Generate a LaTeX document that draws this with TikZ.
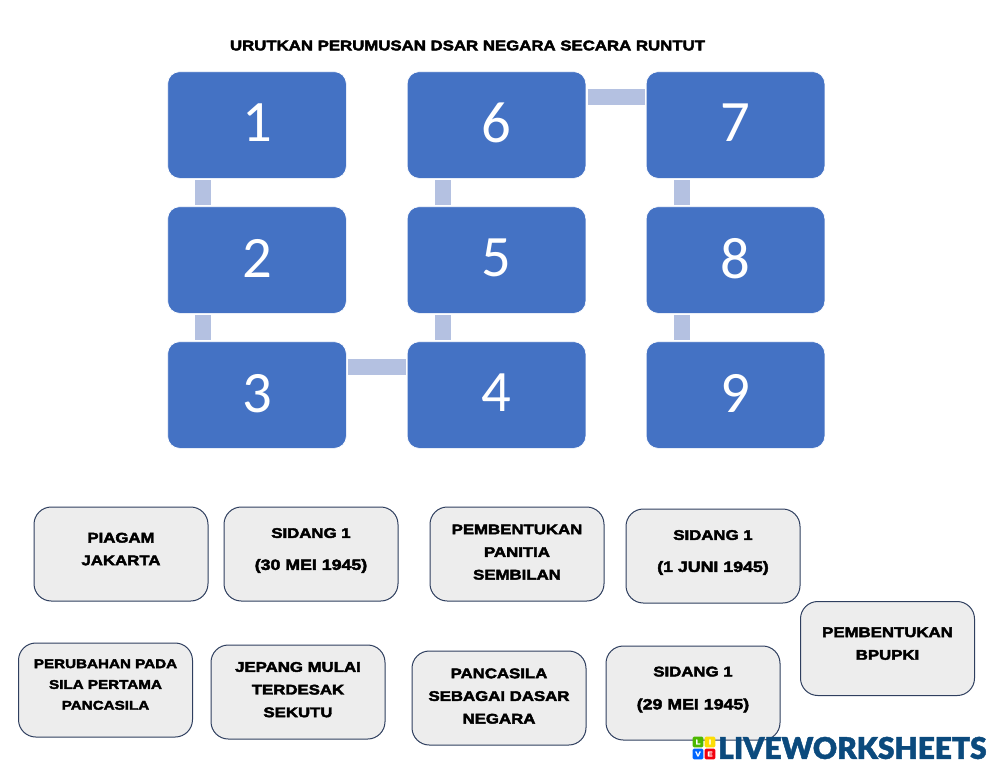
\documentclass[tikz,border=0pt]{standalone}
\usepackage{fontspec}
\setmainfont{Liberation Sans}
\newfontfamily\numfont{Carlito}
\newfontfamily\cardfont[FakeBold=3,FakeStretch=1.2]{Liberation Sans Bold}
\newfontfamily\logofont[FakeBold=1.5]{Lato Black}
\definecolor{stepblue}{HTML}{4472C4}
\definecolor{linkblue}{HTML}{B4C1E1}
\definecolor{cardgray}{HTML}{EDEDED}
\definecolor{cardline}{HTML}{2F3F5F}
\definecolor{logoblue}{HTML}{0B4A7D}
\newcommand{\cardtext}[2]{\raisebox{#1}[0pt][0pt]{\begin{tabular}{@{}c@{}}#2\end{tabular}}}
\newcommand{\datesize}{\fontsize{11.1}{12}\selectfont}
\newcommand{\smallsize}{\fontsize{9.5}{11}\selectfont}
\tikzset{
  stepbox/.style={fill=stepblue,draw=white,line width=0.5pt,rounded corners=9pt,minimum width=134pt,minimum height=80pt,text=white,text depth=3pt,font=\numfont\fontsize{44}{44}\selectfont},
  steplink/.style={draw=linkblue,line width=12pt,shorten >=1pt,shorten <=1pt},
  card/.style={fill=cardgray,draw=cardline,line width=0.75pt,rounded corners=13pt,minimum width=130.5pt,minimum height=70.5pt,inner sep=0pt,font=\cardfont\fontsize{10.5}{12}\selectfont},
  logobox/.style={minimum size=8pt,inner sep=0pt,rounded corners=1pt,text=white,font=\cardfont\fontsize{5}{6}\selectfont},
}
\begin{document}
\begin{tikzpicture}[x=0.75pt,y=-0.75pt]
\useasboundingbox (0,0) rectangle (999,772);
\node[font=\cardfont\fontsize{10.5}{12}\selectfont] (title) at (467.5,45.5) {URUTKAN PERUMUSAN DSAR NEGARA SECARA RUNTUT};
% number grid
\node[stepbox] (n1) at (257,125) {1};
\node[stepbox] (n2) at (257,260) {2};
\node[stepbox] (n3) at (257,395) {3};
\node[stepbox] (n6) at (496.5,125) {6};
\node[stepbox] (n5) at (496.5,260) {5};
\node[stepbox] (n4) at (496.5,395) {4};
\node[stepbox] (n7) at (735.5,125) {7};
\node[stepbox] (n8) at (735.5,260) {8};
\node[stepbox] (n9) at (735.5,395) {9};
% links
\draw[steplink] ([xshift=-40.5pt]n1.south) -- ([xshift=-40.5pt]n2.north);
\draw[steplink] ([xshift=-40.5pt]n2.south) -- ([xshift=-40.5pt]n3.north);
\draw[steplink] ([yshift=21pt]n3.east) -- ([yshift=21pt]n4.west);
\draw[steplink] ([xshift=-40.5pt]n4.north) -- ([xshift=-40.5pt]n5.south);
\draw[steplink] ([xshift=-40.5pt]n5.north) -- ([xshift=-40.5pt]n6.south);
\draw[steplink] ([yshift=21pt]n6.east) -- ([yshift=21pt]n7.west);
\draw[steplink] ([xshift=-40.5pt]n7.south) -- ([xshift=-40.5pt]n8.north);
\draw[steplink] ([xshift=-40.5pt]n8.south) -- ([xshift=-40.5pt]n9.north);
% answer cards
\node[card] (piagam) at (121,554) {\cardtext{-0.25pt}{PIAGAM\\[5pt] JAKARTA}};
\node[card] (sidangA) at (311,554) {\cardtext{-0.25pt}{SIDANG 1\\[12pt] \datesize (30 MEI 1945)}};
\node[card] (panitia) at (517,554) {\cardtext{-2.5pt}{PEMBENTUKAN\\[5pt] PANITIA\\[5pt] SEMBILAN}};
\node[card] (sidangB) at (713,556) {\cardtext{-0.25pt}{SIDANG 1\\[12pt] \datesize (1 JUNI 1945)}};
\node[card] (bpupki) at (887.5,648.5) {\cardtext{-0.25pt}{PEMBENTUKAN\\[5pt] BPUPKI}};
\node[card] (perubahan) at (105.5,690) {\cardtext{0.5pt}{\smallsize PERUBAHAN PADA\\[3.6pt] \smallsize SILA PERTAMA\\[3.6pt] \smallsize PANCASILA}};
\node[card] (jepang) at (298,692) {\cardtext{-2.2pt}{JEPANG MULAI\\[5pt] TERDESAK\\[5pt] SEKUTU}};
\node[card] (pancasila) at (499,698) {\cardtext{-2.5pt}{PANCASILA\\[5pt] SEBAGAI DASAR\\[5pt] NEGARA}};
\node[card] (sidangC) at (693,693) {\cardtext{-0.25pt}{SIDANG 1\\[12.7pt] \datesize (29 MEI 1945)}};
% logo
\node[logobox,fill=green!60!black!70!yellow] (logoL) at (698,742) {L};
\node[logobox,fill=yellow!80!orange] (logoI) at (710,742) {I};
\node[logobox,fill=blue!60!cyan] (logoV) at (698,754) {V};
\node[logobox,fill=red!80!purple] (logoE) at (710,754) {E};
\node[anchor=west,inner sep=0pt,text=logoblue,font=\logofont\fontsize{22.4}{23}\selectfont] (logo) at (718,748) {LIVEWORKSHEETS};
\end{tikzpicture}
\end{document}
